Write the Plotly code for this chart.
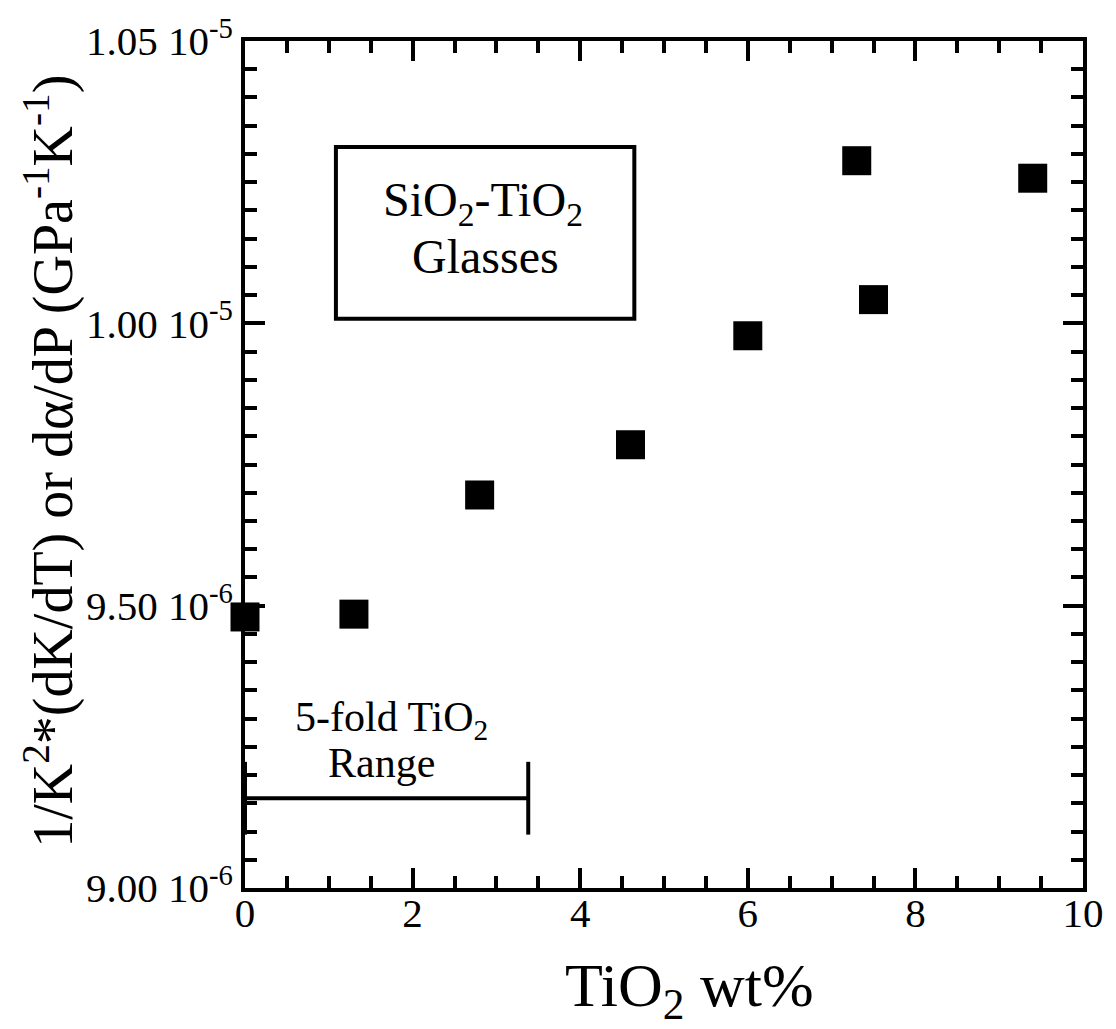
import plotly.graph_objects as go

# ---- data ----
tio2_wt = [0.0, 1.3, 2.8, 4.6, 6.0, 7.3, 7.5, 9.4]
coef = [9.48e-6, 9.485e-6, 9.696e-6, 9.785e-6, 9.978e-6, 1.0288e-5, 1.0042e-5, 1.0257e-5]

range_bar_x = [0.0, 3.38]
range_bar_y = [9.159e-6, 9.159e-6]

x_tickvals = [0, 2, 4, 6, 8, 10]
x_ticktext = ["0", "2", "4", "6", "8", "10"]
y_tickvals = [9.0e-6, 9.5e-6, 1.0e-5, 1.05e-5]
y_ticktext = ["9.00 10<sup>-6</sup>", "9.50 10<sup>-6</sup>",
              "1.00 10<sup>-5</sup>", "1.05 10<sup>-5</sup>"]

FONT = "Liberation Serif, Times New Roman, serif"

fig = go.Figure()

fig.add_trace(go.Scatter(
    x=tio2_wt, y=coef, mode="markers",
    marker=dict(symbol="square", size=29, color="black"),
    cliponaxis=False, showlegend=False))

fig.add_trace(go.Scatter(
    x=range_bar_x, y=range_bar_y, mode="lines+markers",
    line=dict(color="black", width=4),
    marker=dict(symbol="line-ns", size=52, line=dict(color="black", width=4)),
    cliponaxis=False, showlegend=False))

axis_common = dict(
    showline=True, linewidth=4, linecolor="black", mirror="allticks",
    ticks="inside", ticklen=20, tickwidth=4, tickcolor="black",
    showgrid=False, zeroline=False,
    tickfont=dict(family=FONT, size=41, color="black"),
)

fig.update_xaxes(range=[0, 10], tickmode="array", tickvals=x_tickvals, ticktext=x_ticktext,
                 minor=dict(ticks="inside", ticklen=12, tickwidth=4, tickcolor="black",
                            dtick=0.5, tick0=0, showgrid=False),
                 ticklabelstandoff=-14,
                 **axis_common)
fig.update_yaxes(range=[9.0e-6, 1.05e-5], tickmode="array", tickvals=y_tickvals, ticktext=y_ticktext,
                 minor=dict(ticks="inside", ticklen=12, tickwidth=4, tickcolor="black",
                            dtick=5e-8, tick0=9.0e-6, showgrid=False),
                 **axis_common)

# text box
fig.add_shape(type="rect", xref="paper", yref="paper",
              x0=0.1085, x1=0.4646, y0=0.672, y1=0.875,
              line=dict(color="black", width=4), fillcolor="rgba(0,0,0,0)")

ann_font = dict(family=FONT, color="black")
annotations = [
    dict(text="SiO<sub>2</sub>-TiO<sub>2</sub>", xref="paper", yref="paper",
         x=0.284, y=0.809, showarrow=False, font=dict(size=48, **ann_font),
         xanchor="center", yanchor="middle"),
    dict(text="Glasses", xref="paper", yref="paper",
         x=0.287, y=0.7453, showarrow=False, font=dict(size=48, **ann_font),
         xanchor="center", yanchor="middle"),
    dict(text="5-fold TiO<sub>2</sub>", xref="paper", yref="paper",
         x=0.175, y=0.198, showarrow=False, font=dict(size=42, **ann_font),
         xanchor="center", yanchor="middle"),
    dict(text="Range", xref="paper", yref="paper",
         x=0.163, y=0.148, showarrow=False, font=dict(size=42, **ann_font),
         xanchor="center", yanchor="middle"),
    # axis titles
    dict(text="1/K<sup>2</sup>*(dK/dT) or dα/dP (GPa<sup>-1</sup>K<sup>-1</sup>)",
         xref="paper", yref="paper", x=-0.2335, y=0.5035, textangle=-90,
         showarrow=False, font=dict(size=56, **ann_font),
         xanchor="center", yanchor="middle"),
    dict(text="TiO<sub>2</sub> wt%", xref="paper", yref="paper",
         x=0.53, y=-0.12, showarrow=False, font=dict(size=62, **ann_font),
         xanchor="center", yanchor="middle"),
]
fig.update_layout(
    annotations=annotations,
    width=1116, height=1029,
    margin=dict(l=245, r=23, t=40, b=141, pad=0),
    paper_bgcolor="white", plot_bgcolor="white",
    font=dict(family=FONT, color="black"),
)

fig.write_html("out.html")
